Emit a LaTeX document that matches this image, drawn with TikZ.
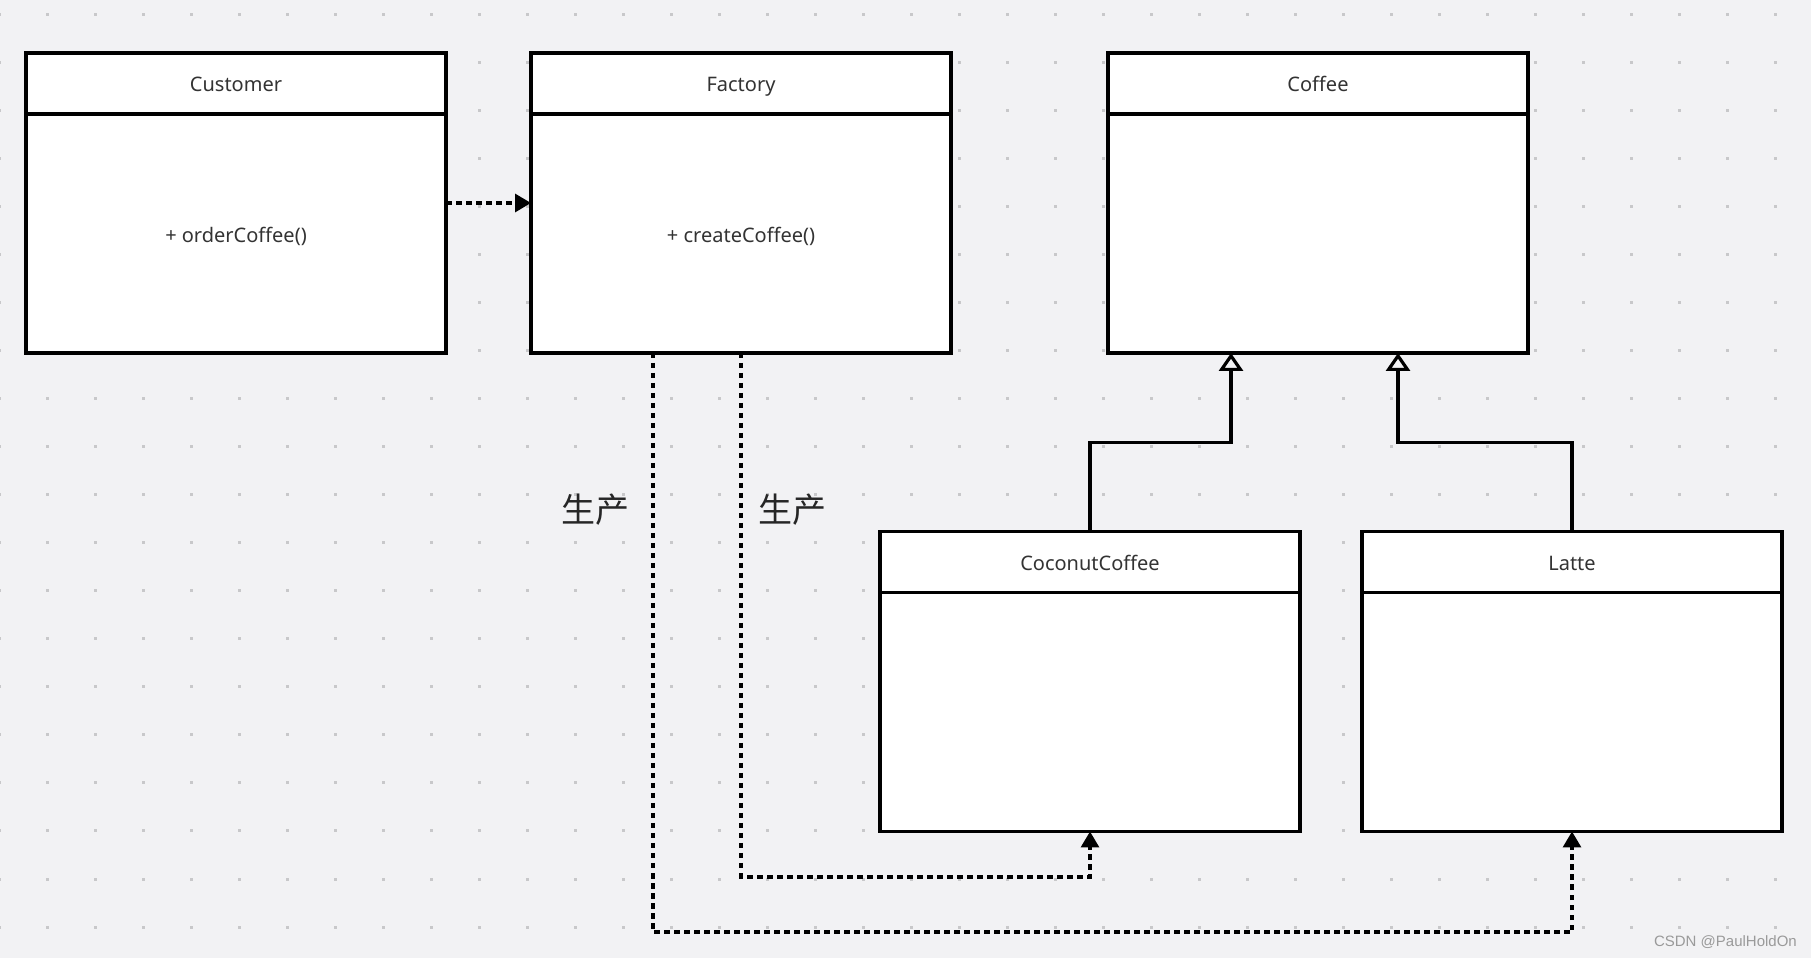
\documentclass[tikz,border=0pt]{standalone}
\usepackage{fontspec}
\setmainfont{Noto Sans}
\newfontfamily\cjkfont{Noto Sans CJK SC}
\newfontfamily\wmfont{Liberation Sans}
\usetikzlibrary{positioning, arrows.meta}
\definecolor{canvasgray}{HTML}{F2F2F4}
\definecolor{gridgray}{HTML}{C8C8CA}
\definecolor{inkgray}{HTML}{333333}
\definecolor{markgray}{HTML}{9A9A9A}

\begin{document}
\begin{tikzpicture}[x=1pt, y=1pt,
        C/.style = {draw, black, fill=white, line width=3.2pt, outer sep=0pt, inner sep=0pt, minimum width=420pt, minimum height=300pt,
            path picture={\draw[line width=3.2pt] ([yshift=-61pt]path picture bounding box.north west) -- ([yshift=-61pt]path picture bounding box.north east);}},
        T/.style = {minimum height=61pt, inner sep=0pt, text height=18pt, text depth=2pt, text=inkgray, font=\fontsize{20}{24}\selectfont},
        M/.style = {inner sep=0pt, text=inkgray, font=\fontsize{20}{24}\selectfont},
        dep/.style = {line width=3.2pt, dash pattern=on 5.5pt off 4.5pt, -{Triangle[length=16pt, width=18pt]}},
        inh/.style = {line width=3.2pt, -{Triangle[open, length=18pt, width=24pt]}},
        note/.style = {inner sep=0pt, text=black!85, font=\cjkfont\fontsize{34}{40}\selectfont}
    ]
        \fill[canvasgray] (0,0) rectangle (1811,958);
        \useasboundingbox (0,0) rectangle (1811,958);
        \foreach \i in {0,...,37}
            \foreach \j in {0,...,19}
                \fill[gridgray] ({48*\i-2.5},{941.5-48*\j}) rectangle ++(3,3);

        \node[C] (cust) at (236,755) {};
        \node[C, right=85pt of cust] (fact) {};
        \node[C, right=157pt of fact] (coffee) {};
        \node[C] (coco) at (1090,276.5) {};
        \node[C, right=62pt of coco] (latte) {};

        \node[T, below=0pt of cust.north] (custT) {Customer};
        \node[T, below=0pt of fact.north] (factT) {Factory};
        \node[T, below=0pt of coffee.north] (coffeeT) {Coffee};
        \node[T, below=0pt of coco.north] (cocoT) {CoconutCoffee};
        \node[T, below=0pt of latte.north] (latteT) {Latte};
        \node[M] (custM) at ([yshift=-33pt]cust.center) {+ orderCoffee()};
        \node[M] (factM) at ([yshift=-33pt]fact.center) {+ createCoffee()};

        \draw[dep] (cust) -- (fact);
        \draw[inh] (coco.north) -- ++(0,89) -| ([xshift=123pt]coffee.south west);
        \draw[inh] (latte.north) -- ++(0,89) -| ([xshift=290pt]coffee.south west);
        \draw[dep] (fact.south) -- ++(0,-524) -| (coco.south);
        \draw[dep] ([xshift=122pt]fact.south west) -- ++(0,-579) -| (latte.south);

        \node[note] (make1) at (595,448) {生产};
        \node[note] (make2) at (792,448) {生产};

        \node[anchor=east, inner sep=0pt, text=markgray, font=\wmfont\fontsize{15}{18}\selectfont] (mark) at (1797,16) {CSDN @PaulHoldOn};
    \end{tikzpicture}
\end{document}
